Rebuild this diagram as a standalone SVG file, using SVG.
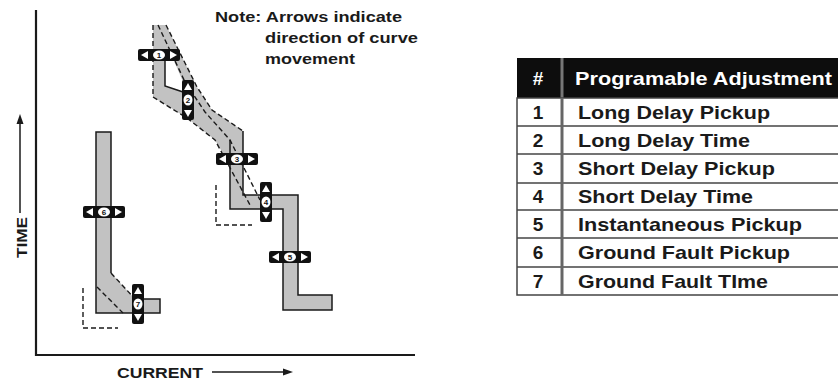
<svg xmlns="http://www.w3.org/2000/svg" xmlns:xlink="http://www.w3.org/1999/xlink" width="838" height="381" viewBox="0 0 838 381">
<style>
text{font-family:"Liberation Sans",Arial,sans-serif;font-weight:bold;fill:#1a1a1a}
.band{fill:#c2c2c2;stroke:none}
.sol{fill:none;stroke:#1a1a1a;stroke-width:1.5;stroke-linejoin:miter}
.dash{fill:none;stroke:#1a1a1a;stroke-width:1.4;stroke-dasharray:5 3}
.axis{fill:none;stroke:#1a1a1a;stroke-width:2.2}
.mk{fill:#111}
.mw{fill:#fff}
.md{font-size:8px;text-anchor:middle;fill:#111}
.tl{fill:none;stroke:#444;stroke-width:1.5}
.tt{font-size:19px}
.tn{font-size:19px;text-anchor:middle}
</style>
<defs>
<g id="markH">
<rect x="-21" y="-6" width="42" height="12" rx="2" class="mk"/>
<polygon points="-18,0 -11,-4 -11,4" class="mw"/>
<polygon points="18,0 11,-4 11,4" class="mw"/>
<ellipse cx="0" cy="0" rx="6" ry="4.5" class="mw"/>
</g>
<g id="markV">
<rect x="-6" y="-20" width="12" height="40" rx="2" class="mk"/>
<polygon points="0,-17 -4,-10 4,-10" class="mw"/>
<polygon points="0,17 -4,10 4,10" class="mw"/>
<ellipse cx="0" cy="0" rx="4.5" ry="5.5" class="mw"/>
</g>
</defs>
<rect width="838" height="381" fill="#fff"/>

<!-- axes -->
<g id="axes">
<polyline class="axis" points="36,10 36,355 415,355"/>
<line x1="20" y1="213" x2="20" y2="123" stroke="#1a1a1a" stroke-width="1.5"/>
<polygon points="20,114 16.5,124 23.5,124" fill="#1a1a1a"/>
<text x="27" y="258" font-size="15" transform="rotate(-90 27 258)" textLength="41" lengthAdjust="spacingAndGlyphs">TIME</text>
<text x="117" y="378" font-size="15" textLength="86" lengthAdjust="spacingAndGlyphs">CURRENT</text>
<line x1="212" y1="372" x2="284" y2="372" stroke="#1a1a1a" stroke-width="1.5"/>
<polygon points="293,372 283,368.5 283,375.5" fill="#1a1a1a"/>
</g>

<!-- note -->
<g id="note">
<text x="215" y="22" font-size="14" textLength="187" lengthAdjust="spacingAndGlyphs">Note: Arrows indicate</text>
<text x="265" y="43" font-size="14" textLength="153" lengthAdjust="spacingAndGlyphs">direction of curve</text>
<text x="265" y="64" font-size="14" textLength="90" lengthAdjust="spacingAndGlyphs">movement</text>
</g>

<!-- ground fault curve -->
<g id="ground-fault-curve">
<polygon class="band" points="96,132 111,132 111,273 135,299 160,299 160,313 96,313"/>
<polyline class="sol" points="111,273 111,132 96,132 96,313 160,313 160,299 135,299"/>
<line class="dash" x1="111" y1="273" x2="135" y2="299"/>
<line class="dash" x1="97" y1="287" x2="123" y2="313"/>
<polyline class="dash" points="83,288 83,328 118,328"/>
</g>

<!-- phase curve -->
<g id="phase-curve">
<polygon class="band" points="153,25 166,25 197,87 212,110 243,131 243,195 298,195 298,295 332,295 332,310 283,310 283,209 230,209 230,165 215,140 187,118 153,97"/>
<polygon points="165,61 174,61 184,84 182,91 165,86" fill="#fff"/>
<polyline class="sol" points="243,131 243,195 298,195 298,295 332,295 332,310 283,310 283,209 230,209 230,140"/>
<polyline class="sol" points="165,58 165,86 183,92" stroke-width="1.2"/>
<polyline class="dash" points="166,25 197,87 212,110 243,131"/>
<polyline class="dash" points="158,25 185,82 205,112 230,140 260,200"/>
<polyline class="dash" points="153,25 153,97 187,118 215,140 250,205"/>
<polyline class="dash" points="216,185 216,225 252,225"/>
</g>

<!-- markers -->
<g id="marker-1"><use xlink:href="#markH" transform="translate(159,55)"/><text class="md" x="159" y="58">1</text></g>
<g id="marker-2"><use xlink:href="#markV" transform="translate(188,100)"/><text class="md" x="188" y="103">2</text></g>
<g id="marker-3"><use xlink:href="#markH" transform="translate(237,159)"/><text class="md" x="237" y="162">3</text></g>
<g id="marker-4"><use xlink:href="#markV" transform="translate(266,202)"/><text class="md" x="266" y="205">4</text></g>
<g id="marker-5"><use xlink:href="#markH" transform="translate(290,257)"/><text class="md" x="290" y="260">5</text></g>
<g id="marker-6"><use xlink:href="#markH" transform="translate(104,212)"/><text class="md" x="104" y="215">6</text></g>
<g id="marker-7"><use xlink:href="#markV" transform="translate(138,304)"/><text class="md" x="138" y="307">7</text></g>

<!-- table -->
<g id="table">
<rect x="517" y="58" width="321" height="40" fill="#0d0d0d"/>
<line x1="562" y1="58" x2="562" y2="98" stroke="#777" stroke-width="3"/>
<text class="tn" x="538" y="85" style="fill:#fff">#</text>
<text class="tt" x="575" y="85" textLength="257" lengthAdjust="spacingAndGlyphs" style="fill:#fff">Programable Adjustment</text>
<polyline class="tl" points="838,98 517,98 517,295 838,295"/>
<line class="tl" x1="517" y1="126" x2="838" y2="126"/>
<line class="tl" x1="517" y1="154" x2="838" y2="154"/>
<line class="tl" x1="517" y1="183" x2="838" y2="183"/>
<line class="tl" x1="517" y1="210" x2="838" y2="210"/>
<line class="tl" x1="517" y1="238" x2="838" y2="238"/>
<line class="tl" x1="517" y1="267" x2="838" y2="267"/>
<line x1="562" y1="98" x2="562" y2="295" stroke="#666" stroke-width="3"/>
<g id="row-1"><text class="tn" x="538" y="119">1</text><text class="tt" x="578" y="119" textLength="192" lengthAdjust="spacingAndGlyphs">Long Delay Pickup</text></g>
<g id="row-2"><text class="tn" x="538" y="147">2</text><text class="tt" x="578" y="147" textLength="172" lengthAdjust="spacingAndGlyphs">Long Delay Time</text></g>
<g id="row-3"><text class="tn" x="538" y="175">3</text><text class="tt" x="578" y="175" textLength="197" lengthAdjust="spacingAndGlyphs">Short Delay Pickup</text></g>
<g id="row-4"><text class="tn" x="538" y="203">4</text><text class="tt" x="578" y="203" textLength="175" lengthAdjust="spacingAndGlyphs">Short Delay Time</text></g>
<g id="row-5"><text class="tn" x="538" y="231">5</text><text class="tt" x="578" y="231" textLength="224" lengthAdjust="spacingAndGlyphs">Instantaneous Pickup</text></g>
<g id="row-6"><text class="tn" x="538" y="259">6</text><text class="tt" x="578" y="259" textLength="212" lengthAdjust="spacingAndGlyphs">Ground Fault Pickup</text></g>
<g id="row-7"><text class="tn" x="538" y="288">7</text><text class="tt" x="578" y="288" textLength="190" lengthAdjust="spacingAndGlyphs">Ground Fault TIme</text></g>
</g>
</svg>
